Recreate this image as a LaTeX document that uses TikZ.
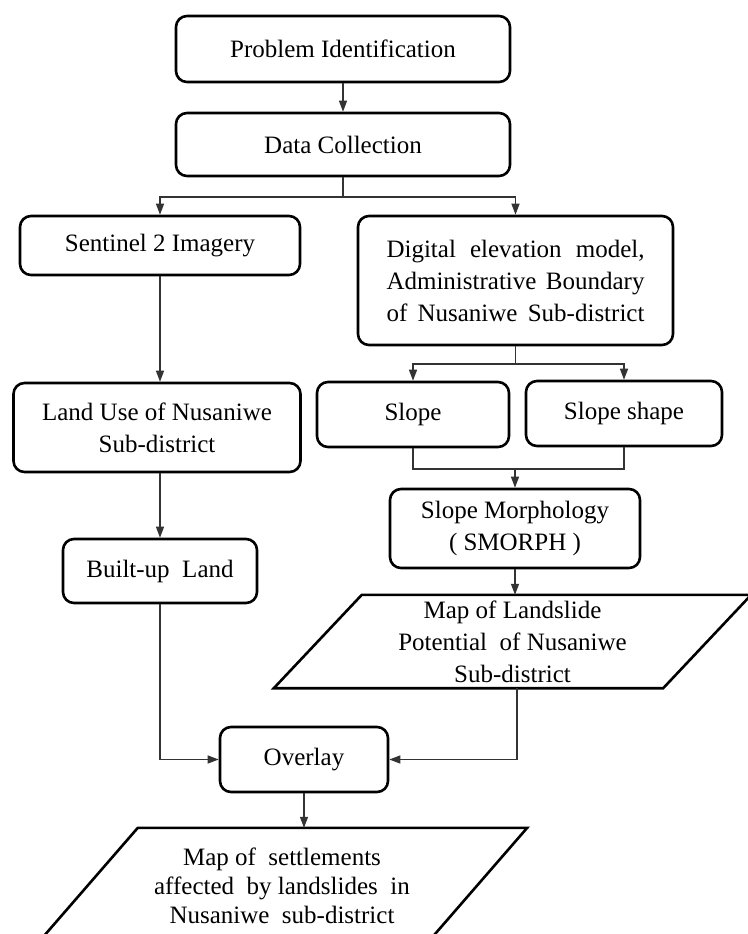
\documentclass[tikz,border=0pt]{standalone}
\usepackage{fontspec}
\setmainfont{Liberation Serif}
\usetikzlibrary{arrows.meta}
\begin{document}
\begin{tikzpicture}[x=1pt,y=-1pt,
  txt/.style={align=center, inner sep=0pt, font=\fontsize{25}{32}\selectfont},
  box/.style={txt, draw=black, line width=2.6pt, rounded corners=11pt},
  para/.style={txt},
  paraline/.style={draw=black, line width=2.6pt},
  conn/.style={draw=black!80, line width=1.3pt},
  arr/.style={conn, -{Triangle[length=11pt,width=8pt]}}]
\useasboundingbox (0,0) rectangle (747,934);
\fill[white] (0,0) rectangle (747,934);

\node[box, minimum width=334pt, minimum height=66pt] (prob) at (343,49) {Problem Identification};
\node[box, minimum width=334pt, minimum height=63pt] (data) at (343,144.5) {Data Collection};
\node[box, minimum width=280pt, minimum height=59pt] (sent) at (160,245.5) {Sentinel 2 Imagery};
\node[box, minimum width=315pt, minimum height=129pt] (dem) at (515.5,280.5)
  {\makebox[258pt][s]{Digital elevation model,}\\\makebox[258pt][s]{Administrative Boundary}\\\makebox[258pt][s]{of Nusaniwe Sub-district}};
\node[box, minimum width=287pt, minimum height=89pt] (landuse) at (157,427.5) {Land Use of Nusaniwe\\Sub-district};
\node[box, minimum width=192pt, minimum height=65pt] (slope) at (413,414.5) {Slope};
\node[box, minimum width=196pt, minimum height=65pt] (shape) at (624,413.5) {Slope shape};
\node[box, minimum width=250pt, minimum height=79pt] (smorph) at (515,528.5) {Slope Morphology\\( SMORPH )};
\node[box, minimum width=194pt, minimum height=64pt] (built) at (160,571) {Built-up\ \ Land};
\node[para, minimum width=477pt, minimum height=93pt] (mapls) at (512.5,641.5) {Map of Landslide\\Potential\ \ of Nusaniwe\\Sub-district};
\draw[paraline] ([xshift=88pt]mapls.north west) -- (mapls.north east) -- ([xshift=-88pt]mapls.south east) -- (mapls.south west) -- cycle;
\node[box, minimum width=168pt, minimum height=65pt] (overlay) at (304,759.5) {Overlay};
\node[para, minimum width=490pt, minimum height=116pt, font=\fontsize{25}{29}\selectfont] (final) at (282,886) {Map of\ \ settlements\\affected\ \ by landslides\ \ in\\Nusaniwe\ \ sub-district};
\draw[paraline] ([xshift=101pt]final.north west) -- (final.north east) -- ([xshift=-101pt]final.south east) -- (final.south west) -- cycle;

\coordinate (dsplit) at (343,197);
\coordinate (demsplit) at (515.5,364);
\coordinate (join) at (515,469);

\draw[arr] (prob) -- (data);
\draw[conn] (data.south) -- (dsplit);
\draw[arr] (dsplit) -| (sent.north);
\draw[arr] (dsplit) -| (dem.north);
\draw[arr] (sent.south) -- (sent.south |- landuse.north);
\draw[conn] (dem.south) -- (demsplit);
\draw[arr] (demsplit) -| (slope.north);
\draw[arr] (demsplit) -| (shape.north);
\draw[conn] (slope.south) |- (join) -| (shape.south);
\draw[arr] (join) -- (smorph.north);
\draw[arr] (smorph.south) -- (smorph.south |- mapls.north);
\draw[arr] (built.north |- landuse.south) -- (built.north);
\draw[arr] (built.south) |- (overlay.west);
\draw[arr] ([xshift=4.5pt]mapls.south) |- (overlay.east);
\draw[arr] (overlay.south) -- (overlay.south |- final.north);
\end{tikzpicture}
\end{document}
